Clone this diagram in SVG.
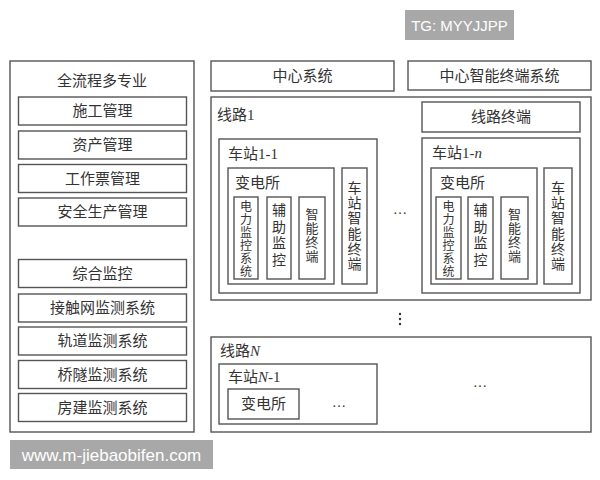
<svg xmlns="http://www.w3.org/2000/svg" width="600" height="480" viewBox="0 0 600 480">
<style>
.b{fill:#fff;stroke:#555;stroke-width:1.4}
.t{font-family:"Liberation Serif","Noto Sans CJK SC",serif;fill:#333;dominant-baseline:central}
.c{text-anchor:middle}
.wm{fill:#a8a8a8}
.wt{font-family:"Liberation Sans","Noto Sans",sans-serif;fill:#fff;dominant-baseline:central}
</style>
<rect width="600" height="480" fill="#fff"/>
<g id="left">
<rect class="b" x="10" y="61" width="184" height="371"/>
<text class="t c" x="102" y="81" font-size="15">全流程多专业</text>
<g id="n1"><rect class="b" x="18.5" y="97" width="168" height="28"/><text class="t c" x="102.5" y="111" font-size="15">施工管理</text></g>
<g id="n2"><rect class="b" x="18.5" y="131" width="168" height="28"/><text class="t c" x="102.5" y="145" font-size="15">资产管理</text></g>
<g id="n3"><rect class="b" x="18.5" y="164.5" width="168" height="28"/><text class="t c" x="102.5" y="178.5" font-size="15">工作票管理</text></g>
<g id="n4"><rect class="b" x="18.5" y="198" width="168" height="28"/><text class="t c" x="102.5" y="212" font-size="15">安全生产管理</text></g>
<g id="n5"><rect class="b" x="18.5" y="259.5" width="168" height="28"/><text class="t c" x="102.5" y="273.5" font-size="15">综合监控</text></g>
<g id="n6"><rect class="b" x="18.5" y="294" width="168" height="28"/><text class="t c" x="102.5" y="308" font-size="15">接触网监测系统</text></g>
<g id="n7"><rect class="b" x="18.5" y="327" width="168" height="28"/><text class="t c" x="102.5" y="341" font-size="15">轨道监测系统</text></g>
<g id="n8"><rect class="b" x="18.5" y="360.5" width="168" height="28"/><text class="t c" x="102.5" y="374.5" font-size="15">桥隧监测系统</text></g>
<g id="n9"><rect class="b" x="18.5" y="393.5" width="168" height="28"/><text class="t c" x="102.5" y="407.5" font-size="15">房建监测系统</text></g>
</g>
<g id="center"><rect class="b" x="211" y="61" width="183" height="30"/><text class="t c" x="302.5" y="76" font-size="15">中心系统</text></g>
<g id="centerTerm"><rect class="b" x="408" y="61" width="183" height="29"/><text class="t c" x="499.5" y="75.5" font-size="15">中心智能终端系统</text></g>
<g id="line1">
<rect class="b" x="211" y="97" width="380" height="203"/>
<text class="t" x="217" y="115" font-size="15">线路1</text>
<g id="lineTerm"><rect class="b" x="422" y="102" width="158" height="30"/><text class="t c" x="501" y="117" font-size="15">线路终端</text></g>
<g id="st11">
<rect class="b" x="219" y="139" width="158" height="154"/>
<text class="t" x="228" y="154" font-size="15">车站1-1</text>
<rect class="b" x="228" y="168" width="106" height="116"/>
<text class="t" x="235" y="183" font-size="15">变电所</text>
<rect class="b" x="234" y="197" width="24" height="82"/>
<text class="t c" font-size="12"><tspan x="246" y="206.5">电</tspan><tspan x="246" y="219.5">力</tspan><tspan x="246" y="232.5">监</tspan><tspan x="246" y="245.5">控</tspan><tspan x="246" y="258.5">系</tspan><tspan x="246" y="271.5">统</tspan></text>
<rect class="b" x="267" y="197" width="24" height="82"/>
<text class="t c" font-size="14"><tspan x="279" y="210">辅</tspan><tspan x="279" y="227">助</tspan><tspan x="279" y="243">监</tspan><tspan x="279" y="260">控</tspan></text>
<rect class="b" x="299" y="197" width="26" height="82"/>
<text class="t c" font-size="13"><tspan x="312" y="214">智</tspan><tspan x="312" y="228">能</tspan><tspan x="312" y="242">终</tspan><tspan x="312" y="256">端</tspan></text>
<rect class="b" x="342" y="168" width="25" height="116"/>
<text class="t c" font-size="14"><tspan x="354.5" y="188">车</tspan><tspan x="354.5" y="203.2">站</tspan><tspan x="354.5" y="218.4">智</tspan><tspan x="354.5" y="233.6">能</tspan><tspan x="354.5" y="248.8">终</tspan><tspan x="354.5" y="264">端</tspan></text>
</g>
<text class="t c" x="400" y="209" font-size="14">…</text>
<g id="st1n">
<rect class="b" x="422" y="138" width="158" height="155"/>
<text class="t" x="432" y="153" font-size="15">车站1-<tspan font-style="italic">n</tspan></text>
<rect class="b" x="431" y="168" width="106" height="116"/>
<text class="t" x="440" y="183" font-size="15">变电所</text>
<rect class="b" x="436" y="197" width="25" height="82"/>
<text class="t c" font-size="12"><tspan x="448.5" y="206.5">电</tspan><tspan x="448.5" y="219.5">力</tspan><tspan x="448.5" y="232.5">监</tspan><tspan x="448.5" y="245.5">控</tspan><tspan x="448.5" y="258.5">系</tspan><tspan x="448.5" y="271.5">统</tspan></text>
<rect class="b" x="468" y="197" width="25" height="82"/>
<text class="t c" font-size="14"><tspan x="480.5" y="210">辅</tspan><tspan x="480.5" y="227">助</tspan><tspan x="480.5" y="243">监</tspan><tspan x="480.5" y="260">控</tspan></text>
<rect class="b" x="501" y="197" width="27" height="82"/>
<text class="t c" font-size="13"><tspan x="514.5" y="214">智</tspan><tspan x="514.5" y="228">能</tspan><tspan x="514.5" y="242">终</tspan><tspan x="514.5" y="256">端</tspan></text>
<rect class="b" x="544" y="168" width="28" height="116"/>
<text class="t c" font-size="14"><tspan x="558" y="188">车</tspan><tspan x="558" y="203.2">站</tspan><tspan x="558" y="218.4">智</tspan><tspan x="558" y="233.6">能</tspan><tspan x="558" y="248.8">终</tspan><tspan x="558" y="264">端</tspan></text>
</g>
</g>
<g id="vdots" fill="#333"><circle cx="400" cy="314" r="1.2"/><circle cx="400" cy="319" r="1.2"/><circle cx="400" cy="324" r="1.2"/></g>
<g id="lineN">
<rect class="b" x="211" y="337" width="380" height="95"/>
<text class="t" x="220" y="351" font-size="15">线路<tspan font-style="italic">N</tspan></text>
<g id="stN1">
<rect class="b" x="219" y="364" width="158" height="60"/>
<text class="t" x="228" y="377" font-size="15">车站<tspan font-style="italic">N</tspan>-1</text>
<rect class="b" x="228" y="389" width="71" height="30"/>
<text class="t c" x="263.5" y="404" font-size="15">变电所</text>
<text class="t c" x="339" y="402" font-size="14">…</text>
</g>
<text class="t c" x="480" y="382" font-size="14">…</text>
</g>
<g id="watermarks">
<rect class="wm" x="405" y="10" width="109" height="30"/>
<text class="wt" x="459.5" y="25" font-size="15" text-anchor="middle">TG: MYYJJPP</text>
<rect class="wm" x="10" y="440" width="203" height="29"/>
<text class="wt" x="111.5" y="455" font-size="17" text-anchor="middle">www.m-jiebaobifen.com</text>
</g>
</svg>
